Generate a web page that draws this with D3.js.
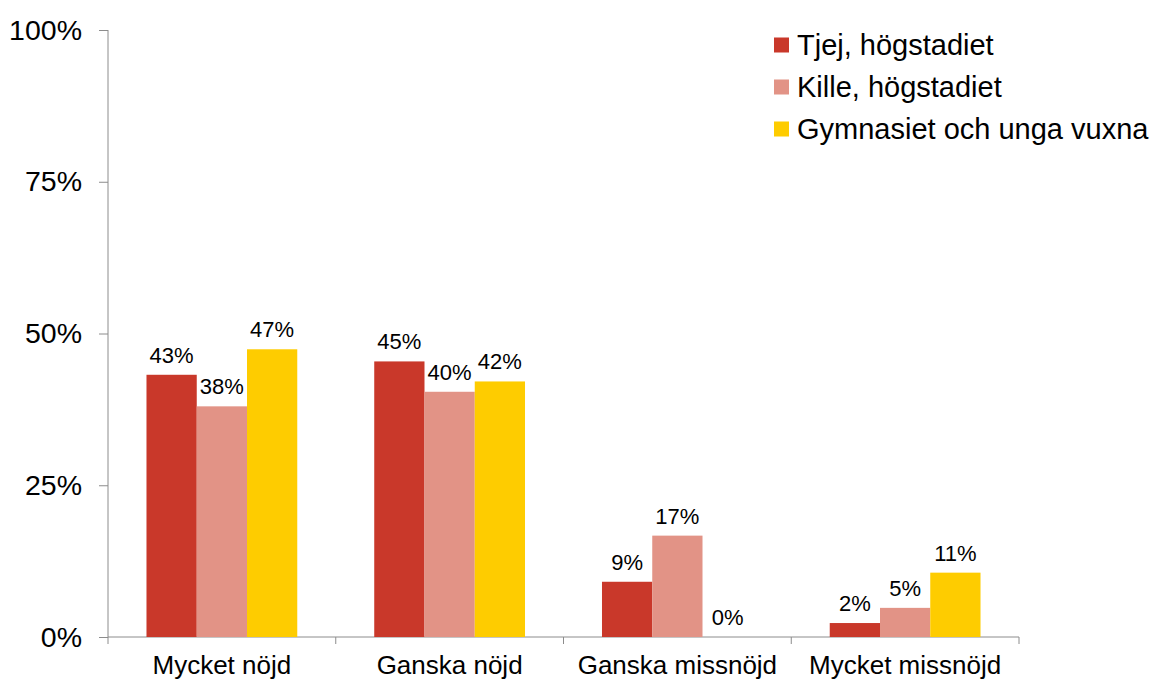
<!DOCTYPE html>
<html>
<head>
<meta charset="utf-8">
<script src="https://cdn.jsdelivr.net/npm/d3@7"></script>
<style>
  body { margin: 0; background: #fff; }
  text { font-family: "Liberation Sans", Arial, sans-serif; fill: #000; }
</style>
</head>
<body>
<svg id="chart" width="1152" height="680"></svg>
<script>
// categories on the x axis
const categories = ['Mycket nöjd', 'Ganska nöjd', 'Ganska missnöjd', 'Mycket missnöjd'];
// series names (legend) and colours
const seriesNames = ['Tjej, högstadiet', 'Kille, högstadiet', 'Gymnasiet och unga vuxna'];
const seriesColors = ['#C9382A', '#E29386', '#FECC00'];
// values in percent, one array per series
const tjej = [43.2, 45.4, 9.1, 2.3];
const kille = [38.0, 40.4, 16.7, 4.8];
const gymnasiet = [47.4, 42.1, 0, 10.6];
const yTicks = [0, 25, 50, 75, 100];

const seriesValues = [tjej, kille, gymnasiet];

const svg = d3.select('#chart');
const margin = {left: 108, right: 133, top: 30, bottom: 43};
const width = 1152 - margin.left - margin.right;
const height = 680 - margin.top - margin.bottom;

const g = svg.append('g').attr('transform', `translate(${margin.left},${margin.top})`);

const x0 = d3.scaleBand().domain(categories).range([0, width])
    .paddingInner(0.338).paddingOuter(0.169);
const x1 = d3.scaleBand().domain(d3.range(seriesNames.length)).range([0, x0.bandwidth()]);
const y = d3.scaleLinear().domain([0, 100]).range([height, 0]);

// y axis
const yAxis = g.append('g')
    .call(d3.axisLeft(y).tickValues(yTicks).tickFormat((d) => d + '%').tickSize(9).tickPadding(17));
yAxis.select('.domain').attr('stroke', '#8c8c8c').attr('d', `M0,${height}V0`);
yAxis.selectAll('.tick line').attr('stroke', '#8c8c8c');
yAxis.selectAll('.tick text').attr('font-size', 28.5).attr('fill', '#000')
    .attr('font-family', '"Liberation Sans", Arial, sans-serif');

// x axis: ticks at category boundaries
const xAxisG = g.append('g').attr('transform', `translate(0,${height})`);
xAxisG.append('line').attr('x1', 0).attr('x2', width).attr('stroke', '#8c8c8c');
const step = x0.step();
xAxisG.selectAll('.bound').data(d3.range(categories.length + 1)).enter()
    .append('line').classed('bound', true)
    .attr('x1', (d) => d * step).attr('x2', (d) => d * step)
    .attr('y1', 0).attr('y2', 7)
    .attr('stroke', '#8c8c8c');
xAxisG.selectAll('.catLabel').data(categories).enter()
    .append('text').classed('catLabel', true)
    .attr('x', (d) => x0(d) + x0.bandwidth() / 2)
    .attr('y', 37)
    .attr('text-anchor', 'middle')
    .attr('font-size', 26)
    .text((d) => d);

// bars
const groups = g.selectAll('.cat').data(categories).enter()
    .append('g').classed('cat', true)
    .attr('transform', (d) => `translate(${x0(d)},0)`);

const barData = (c, ci) => seriesValues.map((vals, si) => ({si, value: vals[ci]}));

groups.selectAll('rect').data(barData).enter()
    .append('rect')
    .attr('x', (d) => x1(d.si))
    .attr('width', x1.bandwidth())
    .attr('y', (d) => y(d.value))
    .attr('height', (d) => height - y(d.value))
    .attr('fill', (d) => seriesColors[d.si]);

groups.selectAll('.valLabel').data(barData).enter()
    .append('text').classed('valLabel', true)
    .attr('x', (d) => x1(d.si) + x1.bandwidth() / 2)
    .attr('y', (d) => y(d.value) - 12)
    .attr('text-anchor', 'middle')
    .attr('font-size', 22)
    .text((d) => Math.round(d.value) + '%');

// legend
const legend = svg.append('g').attr('transform', 'translate(774,45)');
const items = legend.selectAll('.item').data(seriesNames).enter()
    .append('g').classed('item', true)
    .attr('transform', (d, i) => `translate(0,${i * 42})`);
items.append('rect').attr('x', 0).attr('y', -7.5).attr('width', 15).attr('height', 15)
    .attr('fill', (d, i) => seriesColors[i]);
items.append('text').attr('x', 23).attr('y', 10).attr('font-size', 29).text((d) => d);
</script>
</body>
</html>
